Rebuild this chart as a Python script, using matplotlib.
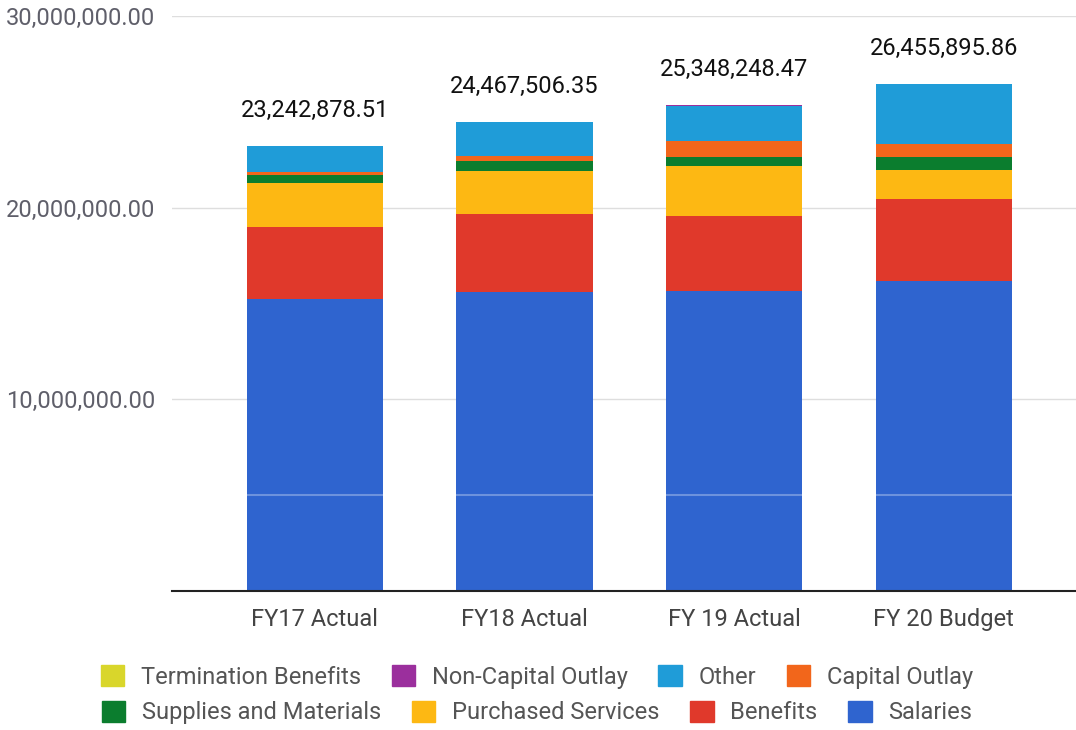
"""Stacked expenditure bars by category, FY17-FY20."""

import matplotlib

matplotlib.use("Agg")
import matplotlib.pyplot as plt
import numpy as np
from matplotlib.patches import Patch

years = ["FY17 Actual", "FY18 Actual", "FY 19 Actual", "FY 20 Budget"]
totals = [23242878.51, 24467506.35, 25348248.47, 26455895.86]

# stacked bottom -> top, values in dollars
salaries = [15230000, 15610000, 15670000, 16190000]
benefits = [3760000, 4060000, 3890000, 4240000]
purchased_services = [2290000, 2240000, 2610000, 1560000]
supplies = [420000, 540000, 480000, 630000]
capital_outlay = [170000, 260000, 840000, 700000]
other = [1372879, 1757506, 1798248, 3115896]
non_capital_outlay = [0, 0, 60000, 0]
termination_benefits = [0, 0, 0, 20000]

series = [
    ("Salaries", salaries, "#2f64cf"),
    ("Benefits", benefits, "#e0392b"),
    ("Purchased Services", purchased_services, "#fdb813"),
    ("Supplies and Materials", supplies, "#0b7d2e"),
    ("Capital Outlay", capital_outlay, "#f2661b"),
    ("Other", other, "#1f9cd8"),
    ("Non-Capital Outlay", non_capital_outlay, "#9b2f9d"),
    ("Termination Benefits", termination_benefits, "#d9d62b"),
]

plt.rcParams["font.family"] = ["Roboto", "DejaVu Sans"]

fig = plt.figure(figsize=(10.76, 7.30), dpi=100)
ax = fig.add_axes([0.16, 0.1904, 0.84, 0.7876])

x = np.arange(len(years))
bottom = np.zeros(len(years))
for name, values, color in series:
    vals = np.array(values, dtype=float)
    ax.bar(x, vals, 0.65, bottom=bottom, color=color, zorder=2)
    bottom += vals

# faint line through the bars, as in the scanned original
ax.axhline(5e6, color="white", alpha=0.3, linewidth=1.5, zorder=2.5)

for xi, total in zip(x, totals):
    ax.text(xi, total + 1.25e6, f"{total:,.2f}", ha="center", va="bottom",
            fontsize=17, color="#111111")

ax.set_xlim(-0.68, 3.63)
ax.set_ylim(0, 30e6)
ax.set_yticks([0, 10e6, 20e6, 30e6])
ax.set_yticklabels(["", "10,000,000.00", "20,000,000.00", "30,000,000.00"])
ax.set_xticks(x)
ax.set_xticklabels(years)
ax.tick_params(axis="y", length=0, pad=12, labelsize=17, labelcolor="#5f5f6a")
ax.tick_params(axis="x", length=0, pad=12, labelsize=17, labelcolor="#444444")
ax.grid(True, axis="y", color="#dedede", linewidth=1.0, zorder=0)
for side in ("top", "right", "left"):
    ax.spines[side].set_visible(False)
ax.spines["bottom"].set_color("#222222")
ax.spines["bottom"].set_linewidth(1.5)
ax.spines["bottom"].set_zorder(3)

legend_order = series[::-1]
rows = [legend_order[:4], legend_order[4:]]
row_y = [0.073, 0.024]
for items, yy in zip(rows, row_y):
    handles = [Patch(facecolor=c, edgecolor=c) for _, _, c in items]
    labels = [n for n, _, _ in items]
    fig.legend(handles, labels, loc="center", bbox_to_anchor=(0.499, yy),
               ncol=4, frameon=False, fontsize=17, handlelength=1.0,
               handleheight=1.0, handletextpad=0.7, columnspacing=1.3,
               labelcolor="#555555", borderpad=0.0)

fig.savefig("out.png", dpi=100)
plt.close(fig)
